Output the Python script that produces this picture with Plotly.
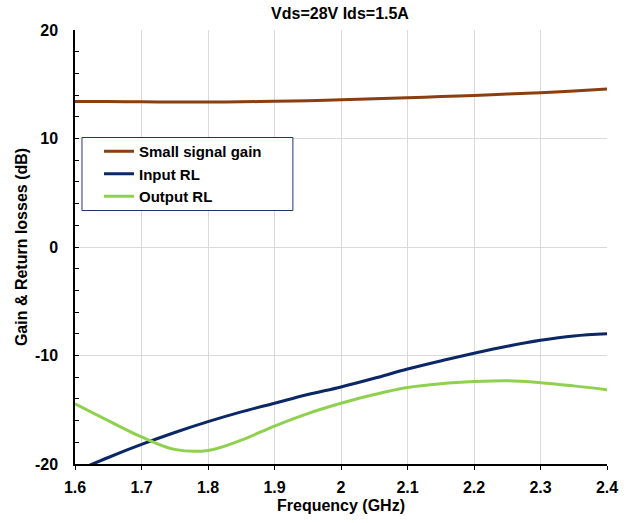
import plotly.graph_objects as go

freq = [1.6, 1.65, 1.7, 1.75, 1.8, 1.85, 1.9, 1.95, 2.0, 2.05, 2.1, 2.15, 2.2, 2.25, 2.3, 2.35, 2.4]
gain = [13.42, 13.40, 13.38, 13.36, 13.36, 13.38, 13.43, 13.49, 13.57, 13.66, 13.76, 13.86, 13.97, 14.09, 14.22, 14.38, 14.56]
input_rl = [-20.7, -19.4, -18.2, -17.1, -16.1, -15.2, -14.4, -13.6, -12.9, -12.1, -11.25, -10.5, -9.8, -9.15, -8.6, -8.2, -8.0]
output_rl = [-14.45, -16.0, -17.5, -18.65, -18.75, -17.8, -16.5, -15.35, -14.4, -13.6, -12.95, -12.6, -12.4, -12.32, -12.5, -12.8, -13.15]

x_ticks = [1.6, 1.7, 1.8, 1.9, 2.0, 2.1, 2.2, 2.3, 2.4]
x_ticklabels = ["1.6", "1.7", "1.8", "1.9", "2", "2.1", "2.2", "2.3", "2.4"]
y_ticks = [-20, -10, 0, 10, 20]
y_ticklabels = ["-20", "-10", "0", "10", "20"]

FONT = "Liberation Sans, Arial, sans-serif"

fig = go.Figure()
fig.add_trace(go.Scatter(x=freq, y=gain, name="Small signal gain", mode="lines",
                         line=dict(color="#8B3E0F", width=3, shape="spline")))
fig.add_trace(go.Scatter(x=freq, y=input_rl, name="Input RL", mode="lines",
                         line=dict(color="#0B2766", width=3, shape="spline")))
fig.add_trace(go.Scatter(x=freq, y=output_rl, name="Output RL", mode="lines",
                         line=dict(color="#8FD14F", width=3, shape="spline")))

# body margin removed via post_script, so figure coords = screen coords
L, R, T, B = 75, 607.3, 30, 464
W, H = R - L, B - T
FIG_W, FIG_H = 631, 523

fig.add_shape(type="rect", xref="paper", yref="paper",
              x0=(82 - L) / W, x1=(293 - L) / W,
              y0=(B - 210.5) / H, y1=(B - 137.5) / H,
              line=dict(color="#1F3475", width=1), fillcolor="white", layer="above")

fig.update_layout(
    width=FIG_W, height=FIG_H,
    margin=dict(l=L, r=FIG_W - R, t=T, b=FIG_H - B, autoexpand=False),
    paper_bgcolor="white", plot_bgcolor="white",
    title=dict(text="Vds=28V Ids=1.5A", x=340 / FIG_W, xanchor="center",
               y=1 - 13 / FIG_H, yanchor="middle",
               font=dict(family=FONT, size=16, color="black", weight="bold"), automargin=False),
    font=dict(family=FONT, color="black"),
    showlegend=True,
    legend=dict(x=(99 - L) / W, y=(B - 135) / H, xanchor="left", yanchor="top",
                bgcolor="rgba(0,0,0,0)", borderwidth=0,
                font=dict(family=FONT, size=15, color="black", weight="bold"),
                tracegroupgap=0, itemwidth=30),
    xaxis=dict(range=[1.6, 2.4], tickvals=x_ticks, ticktext=x_ticklabels,
               showgrid=True, gridcolor="#D9D9D9", gridwidth=1,
               showline=True, linecolor="black", linewidth=1.5,
               ticks="outside", ticklen=4, tickcolor="black",
               ticklabelstandoff=4,
               tickfont=dict(family=FONT, size=16, color="black", weight="bold"),
               title=dict(text="Frequency (GHz)", standoff=5,
                          font=dict(family=FONT, size=16, color="black", weight="bold")),
               zeroline=False, automargin=False),
    yaxis=dict(range=[-20, 20], tickvals=y_ticks, ticktext=y_ticklabels,
               showgrid=True, gridcolor="#D9D9D9", gridwidth=1,
               showline=True, linecolor="black", linewidth=1.5,
               ticks="inside", ticklen=4, tickcolor="black",
               minor=dict(dtick=2, ticks="inside", ticklen=4, tickcolor="black", showgrid=False),
               ticklabelstandoff=12,
               tickfont=dict(family=FONT, size=16, color="black", weight="bold"),
               title=dict(text="Gain & Return losses (dB)", standoff=3,
                          font=dict(family=FONT, size=16, color="black", weight="bold")),
               zeroline=False, automargin=False),
)

fig.write_html("out.html", config={"displayModeBar": False},
               post_script="document.body.style.margin='0';")
